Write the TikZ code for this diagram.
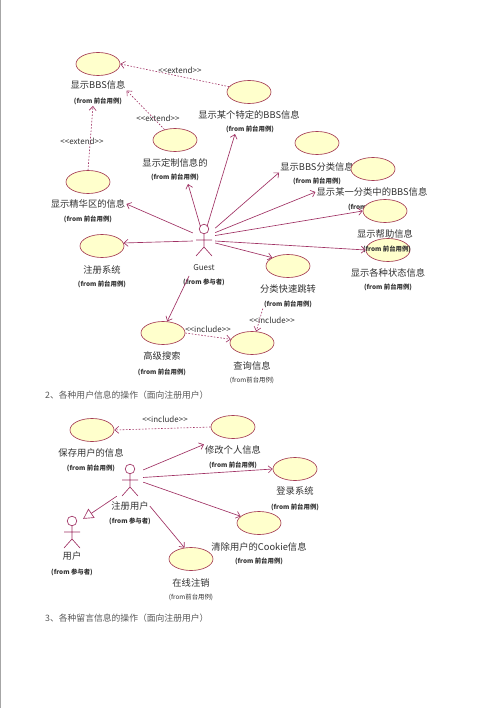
\documentclass[tikz,border=0pt]{standalone}
\usepackage{fontspec}
\usetikzlibrary{shapes.geometric,arrows.meta}
\newfontfamily\cjk{Noto Sans CJK SC}
\newcommand\lblfont{\cjk\fontsize{9.3}{11}\selectfont}
\newcommand\frmfont{\cjk\bfseries\fontsize{6.4}{7}\selectfont}
\newcommand\frmlight{\cjk\fontsize{6.4}{7}\selectfont}
\newcommand\stfont{\cjk\fontsize{8}{9}\selectfont}
\newcommand\hdfont{\cjk\fontsize{8.8}{10}\selectfont}
\definecolor{ucfill}{RGB}{255,255,204}
\definecolor{ucline}{RGB}{165,60,85}
\definecolor{conn}{RGB}{160,50,100}
\definecolor{txt}{RGB}{50,50,50}
\tikzset{
  uc/.style={ellipse, draw=ucline, fill=ucfill, minimum width=44pt, minimum height=23pt, inner sep=0pt, line width=0.65pt},
  lbl/.style={font=\lblfont, text=txt, inner sep=1pt},
  frm/.style={font=\frmfont, text=txt, inner sep=1pt},
  frmb/.style={font=\frmlight, text=txt, inner sep=1pt},
  stereo/.style={font=\stfont, text=txt, inner sep=1pt},
  heading/.style={font=\hdfont, text=black!65, anchor=west, inner sep=0pt},
  actorbox/.style={draw=none, minimum width=22pt, minimum height=30pt, inner sep=0pt},
  assoc/.style={draw=conn, line width=0.65pt, -{Straight Barb[length=4pt,width=7pt]}},
  dep/.style={draw=conn, line width=0.6pt, dash pattern=on 1.6pt off 1.6pt, -{Straight Barb[length=4pt,width=7pt]}},
  gen/.style={draw=conn, line width=0.65pt, -{Triangle[open,length=10pt,width=11pt]}},
  stickman/.pic={
    \draw[conn, line width=0.65pt] (0,0) circle (4.8);
    \draw[conn, line width=0.65pt] (0,4.8) -- (0,18) (-8,11) -- (8,11) (0,18) -- (-8,27) (0,18) -- (8,27);
  }
}
\begin{document}
\begin{tikzpicture}[x=1pt,y=-1pt]
\useasboundingbox (0,0) rectangle (500,708);
\fill[white] (0,0) rectangle (500,708);
\draw[black!35, line width=1.2pt] (0.6,0) -- (0.6,708);

% ---------- diagram 1 ----------
\node[uc] (e1) at (98,64) {};
\node[lbl] (l1) at (98,85) {显示BBS信息};
\node[frm] (fr1) at (98,101) {(from 前台用例)};

\node[uc] (e2) at (249,92) {};
\node[lbl] (l2) at (249,115) {显示某个特定的BBS信息};
\node[frm] (fr2) at (250,129) {(from 前台用例)};

\node[uc] (e3) at (175,140) {};
\node[lbl] (l3) at (175,163) {显示定制信息的};
\node[frm] (fr3) at (175,177) {(from 前台用例)};

\node[uc] (e4) at (88,182) {};
\node[lbl] (l4) at (88,204) {显示精华区的信息};
\node[frm] (fr4) at (88,219) {(from 前台用例)};

\node[uc] (e5) at (102,246) {};
\node[lbl] (l5) at (102,270) {注册系统};
\node[frm] (fr5) at (102,284) {(from 前台用例)};

\node[uc] (e6) at (317,143) {};
\node[lbl] (l6) at (317,167) {显示BBS分类信息};
\node[frm] (fr6) at (317,181) {(from 前台用例)};

\node[uc] (e7) at (373,169) {};
\node[lbl] (l7) at (372,192) {显示某一分类中的BBS信息};
\node[frm] (fr7) at (372,207) {(from 前台用例)};

\node[uc] (e8) at (385,211) {};
\node[uc] (e9) at (388,250) {};
\node[lbl] (l8) at (385,234) {显示帮助信息};
\node[frm] (fr8) at (387,249) {(from 前台用例)};
\node[lbl] (l9) at (388,273) {显示各种状态信息};
\node[frm] (fr9) at (388,287) {(from 前台用例)};

\node[uc] (e10) at (288,266) {};
\node[lbl] (l10) at (288,289) {分类快速跳转};
\node[frm] (fr10) at (288,304) {(from 前台用例)};

\node[uc] (e11) at (163,333) {};
\node[lbl] (l11) at (162,356) {高级搜索};
\node[frm] (fr11) at (162,372) {(from 前台用例)};

\node[uc] (e12) at (252,343) {};
\node[lbl] (l12) at (252,366) {查询信息};
\node[frmb] (fr12) at (252,380) {(from前台用例)};

\pic at (204,229) {stickman};
\node[actorbox] (guest) at (204,242) {};
\node[stereo] (lguest) at (204,268) {Guest};
\node[frm] (gfrom) at (204,282) {(from 参与者)};

\coordinate (t1) at (93,106);
\coordinate (t2) at (235,134);
\coordinate (t3) at (188,184);
\coordinate (s11) at (189,276);

\node[stereo] (x1) at (180,70) {<<extend>>};
\node[stereo] (x2) at (158,118) {<<extend>>};
\node[stereo] (x3) at (82,141) {<<extend>>};
\node[stereo] (i1) at (208,329) {<<include>>};
\node[stereo] (i2) at (272,320) {<<include>>};

\draw[dep] (e2.165) -- (e1.east);
\draw[dep] (e3.135) -- (l1.south east);
\draw[dep] (e4.north) -- (t1);
\draw[dep] (e11.east) -- (e12.170);
\draw[dep] (fr10.south west) -- (e12.70);

\draw[assoc] (guest.141) -- (l4.east);
\draw[assoc] (guest.103) -- (t3);
\draw[assoc] (guest.79) -- (t2);
\draw[assoc] (guest.51) -- (l6.south west);
\draw[assoc] (guest.40) -- (l7.west);
\draw[assoc] (guest.30) -- (e8.west);
\draw[assoc] (guest.5) -- (e9.west);
\draw[assoc] (guest.-5) -- (e10.north west);
\draw[assoc] (guest.175) -- (e5.8);
\draw[assoc] (s11) -- (e11.70);

% ---------- headings ----------
\node[heading] (h2) at (45,395) {2、各种用户信息的操作（面向注册用户）};
\node[heading] (h3) at (45,618) {3、各种留言信息的操作（面向注册用户）};

% ---------- diagram 2 ----------
\node[uc] (f1) at (92,430) {};
\node[lbl] (lf1) at (91,453) {保存用户的信息};
\node[frm] (frf1) at (91,468) {(from 前台用例)};

\node[uc] (f2) at (233,427) {};
\node[lbl] (lf2) at (233,450) {修改个人信息};
\node[frm] (frf2) at (233,465) {(from 前台用例)};

\node[uc] (f3) at (295,469) {};
\node[lbl] (lf3) at (295,491) {登录系统};
\node[frm] (frf3) at (295,507) {(from 前台用例)};

\node[uc] (f4) at (259,523) {};
\node[lbl] (lf4) at (259,547) {清除用户的Cookie信息};
\node[frm] (frf4) at (259,561) {(from 前台用例)};

\node[uc] (f5) at (191,559) {};
\node[lbl] (lf5) at (191,583) {在线注销};
\node[frmb] (frf5) at (191,597) {(from前台用例)};

\pic at (130,469) {stickman};
\node[actorbox, minimum width=26pt] (reg) at (130,481) {};
\node[lbl] (lreg) at (130,506) {注册用户};
\node[frm] (frreg) at (130,521) {(from 参与者)};

\pic at (72,521) {stickman};
\node[actorbox] (user) at (72,534) {};
\node[lbl] (luser) at (72,556) {用户};
\node[frm] (fruser) at (72,572) {(from 参与者)};

\node[stereo] (i3) at (165,419) {<<include>>};
\draw[dep] (f2.west) -- (f1.east);

\draw[assoc] (reg.40) -- (lf2.north west);
\draw[assoc] (reg.15) -- (f3.west);
\draw[assoc] (reg.-5) -- (f4.160);
\draw[assoc] (lreg.east) -- (f5.120);
\draw[gen] (reg.south west) -- (user.north east);
\end{tikzpicture}
\end{document}
